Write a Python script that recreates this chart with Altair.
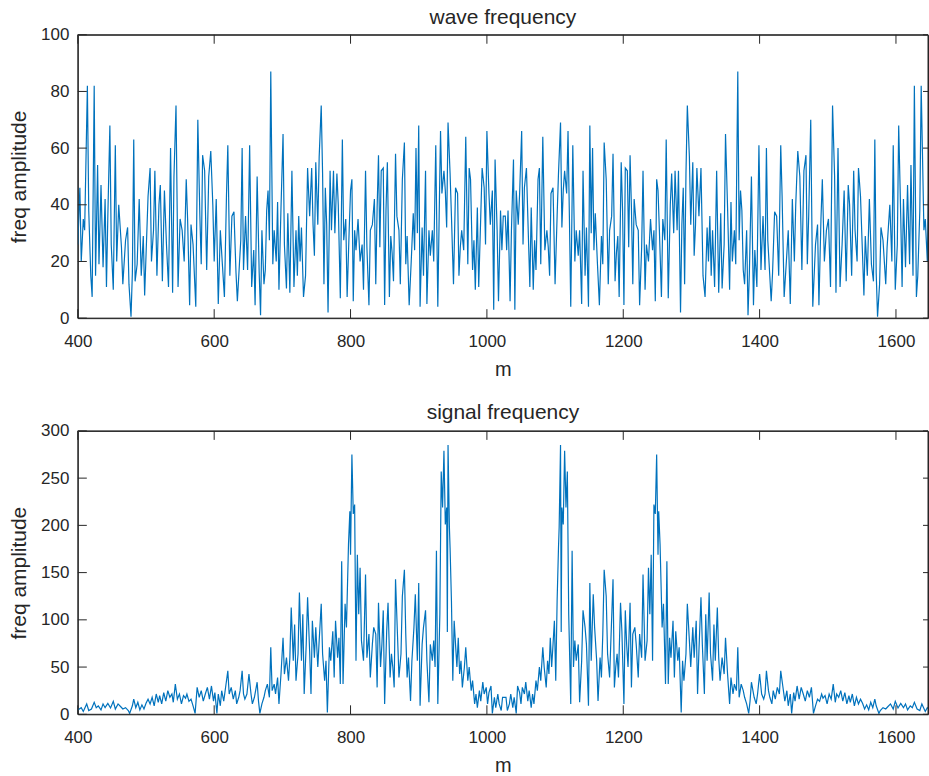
import altair as alt
import pandas as pd

# ---------------- data ----------------
# wave frequency (top panel), left half (m, amplitude)
WAVE_M_LEFT = [400, 403, 405, 408, 410, 414, 416, 419, 421, 424, 426, 429, 431, 434, 437, 440, 442, 444, 447, 449,
               452, 455, 457, 460, 464, 466, 470, 473, 475, 478, 480, 482, 484, 487, 490, 493, 496, 498, 500, 503,
               506, 508, 511, 513, 516, 519, 521, 524, 527, 530, 533, 536, 539, 541, 544, 547, 550, 553, 556, 559,
               561, 564, 566, 569, 573, 576, 579, 581, 583, 586, 589, 592, 595, 598, 600, 603, 606, 609,
               612, 615, 618, 620, 623, 626, 629, 632, 634, 637, 639, 641, 643, 646, 649, 652, 655, 658, 660, 663,
               666, 668, 670, 673, 675, 677, 679, 681, 683, 686, 688, 691, 693, 695, 698, 701, 703, 706, 708, 711,
               714, 717, 720, 722, 724, 726, 728, 731, 734, 737, 740, 743, 745, 747, 749, 752, 754, 757, 759, 761,
               763, 765, 767, 770, 772, 775, 777, 780, 782, 785, 788, 790, 793, 795, 798, 800, 802, 804, 806, 808,
               811, 814, 817, 819,
               822, 824, 827, 829, 832, 835, 837, 839, 841, 843, 845, 848, 850, 852, 854, 857, 859, 861, 863, 866,
               868, 871, 873, 876, 879, 881, 883, 886, 889, 892, 894, 896, 898, 900, 902, 905, 907, 910, 912, 915,
               917, 920, 922, 925, 928, 930, 932, 934, 937, 939, 941, 943, 946, 948, 951, 954, 957, 959, 961, 963,
               966, 969, 972, 974, 976, 979, 981, 983, 986, 988, 991, 993, 996, 998, 1000, 1003, 1005, 1008, 1010,
               1012, 1015, 1017, 1020, 1022, 1024]
WAVE_A_LEFT = [26, 46, 20, 35, 31, 82, 38, 15, 7.5, 82, 15, 54, 19, 47, 18, 42, 11, 36, 68, 26,
               10, 61, 20, 40, 25, 12, 27.5, 32, 12, 0.5, 16, 63, 13, 19, 42, 15, 29, 8, 22, 43,
               53, 20, 31, 52, 15, 40, 47, 13, 45, 26, 11, 60, 9, 50, 75, 11, 35, 31, 20, 49,
               35, 4.6, 33, 26, 4, 70, 36, 19, 57.5, 52, 17, 50, 59, 40, 20, 42, 5, 31,
               19, 7.5, 43, 61, 15, 36, 37.5, 16, 6, 19, 27.5, 60, 17, 36, 17, 61, 11, 24, 4.6, 50,
               16, 1, 31, 12, 17, 38, 45, 27.5, 87, 19, 31, 20, 41, 10, 39, 65, 26, 10.5, 37, 9,
               52, 11, 31, 15, 36, 20, 32, 7.5, 15, 53, 36, 53, 33, 22, 55, 33, 57, 75, 51, 12,
               46, 33, 2, 52, 31, 52, 30, 51, 40, 7, 63, 27.5, 35, 7.5, 31, 45, 49, 6, 31, 24,
               35, 20, 26, 10,
               52, 25, 4.6, 31, 33, 42, 12, 39, 57.5, 25, 52, 53, 4.6, 38, 55, 7.5, 29, 23, 13, 58,
               36, 31, 12, 49, 62, 19, 29, 4.6, 20, 37, 24, 60, 30, 68, 4, 32, 15, 52, 5, 31,
               22, 31, 20, 61, 4, 36, 66, 44, 52, 45, 32, 69, 51, 36, 12, 46, 44, 15, 25, 31,
               24, 64, 19, 53, 49, 17, 27.5, 10, 39, 11, 36, 53, 46, 26, 66, 44, 33, 45, 3,
               56, 31, 6, 38, 24, 36]
# wave frequency, right half (mirror image of the spectrum)
WAVE_M_RIGHT = [1027, 1029, 1031, 1034, 1036, 1039, 1041, 1043, 1046, 1048, 1051, 1053, 1055, 1058, 1060, 1063,
                1065, 1068, 1070, 1072, 1075, 1077, 1079, 1082, 1085, 1088, 1090, 1092, 1094, 1097, 1100, 1103,
                1105, 1108, 1110, 1112, 1114, 1117, 1119, 1121, 1123, 1126, 1129, 1131, 1134, 1136, 1139, 1141,
                1144, 1146, 1149, 1151, 1153, 1155, 1157, 1159, 1162, 1165, 1168, 1170, 1172, 1175, 1178, 1180,
                1183, 1185, 1188, 1190, 1192, 1194, 1197, 1199, 1201, 1203, 1206, 1208, 1210, 1212, 1214, 1216,
                1219, 1222, 1224, 1227, 1229,
                1232, 1234, 1237, 1240, 1243, 1245, 1247, 1249, 1251, 1253, 1256, 1258, 1261, 1263, 1266, 1269,
                1271, 1274, 1276, 1279, 1281, 1284, 1286, 1288, 1290, 1292, 1294, 1297, 1299, 1302, 1304, 1306,
                1308, 1311, 1314, 1317, 1320, 1323, 1325, 1327, 1329, 1331, 1334, 1337, 1340, 1343, 1345, 1348,
                1350, 1353, 1356, 1358, 1360, 1363, 1365, 1368, 1370, 1372, 1374, 1376, 1378, 1381, 1383, 1385,
                1388, 1391, 1393, 1396, 1399, 1402, 1405, 1408, 1410, 1412, 1414, 1417, 1419, 1422, 1425, 1428,
                1431, 1433, 1436, 1439,
                1442, 1445, 1448, 1451, 1453, 1456, 1459, 1462, 1465, 1468, 1470, 1472, 1475, 1478, 1482, 1485,
                1487, 1490, 1492, 1495, 1498, 1501, 1504, 1507, 1510, 1512, 1515, 1518, 1521, 1524, 1527, 1530,
                1532, 1535, 1538, 1540, 1543, 1545, 1548, 1551, 1553, 1555, 1558, 1561, 1564, 1567, 1569, 1571,
                1573, 1576, 1578, 1581, 1585, 1587, 1591, 1594, 1596, 1599, 1602, 1604, 1607, 1609, 1611, 1614,
                1617, 1620, 1622, 1625, 1627, 1630, 1632, 1635, 1637, 1641, 1643, 1646, 1648, 1651]
WAVE_A_RIGHT = [36, 24, 38, 6, 31, 56, 3, 45, 33, 44, 66, 26, 46, 53, 36, 11,
                39, 10, 27.5, 17, 49, 53, 19, 64, 24, 31, 25, 15, 44, 46, 12, 36,
                51, 69, 32, 45, 52, 44, 66, 36, 4, 61, 20, 31, 22, 31, 5, 52,
                15, 32, 4, 68, 30, 60, 24, 37, 20, 4.6, 29, 19, 62, 49, 12, 31,
                36, 58, 13, 23, 29, 7.5, 55, 38, 4.6, 53, 52, 25, 57.5, 39, 12, 42,
                33, 31, 4.6, 25, 52,
                10, 26, 20, 35, 24, 31, 6, 49, 45, 31, 7.5, 35, 27.5, 63, 7, 40,
                51, 30, 52, 31, 52, 2, 33, 46, 12, 51, 75, 57, 33, 55, 22, 33,
                53, 36, 53, 15, 7.5, 32, 20, 36, 15, 31, 11, 52, 9, 37, 10.5, 26,
                65, 39, 10, 41, 20, 31, 19, 87, 27.5, 45, 38, 17, 12, 31, 1, 16,
                50, 4.6, 24, 11, 61, 17, 36, 17, 60, 27.5, 19, 6, 16, 37.5, 36, 15,
                61, 43, 7.5, 19,
                31, 5, 42, 20, 40, 59, 50, 17, 52, 57.5, 19, 36, 70, 4, 26, 33,
                4.6, 35, 49, 20, 31, 35, 11, 75, 50, 9, 60, 11, 26, 45, 13, 47,
                40, 15, 52, 31, 20, 53, 43, 22, 8, 29, 15, 42, 19, 13, 63, 16,
                0.5, 12, 32, 27.5, 12, 25, 40, 20, 61, 10, 26, 68, 36, 11, 42, 18,
                47, 19, 54, 15, 82, 7.5, 15, 38, 82, 31, 35, 20, 46, 26]

# signal frequency (bottom panel), left half
SIG_M_LEFT = [400, 405, 408, 413, 416, 420, 424, 427, 430, 434, 437, 440, 444, 448, 452, 455, 459, 463, 466, 470,
              474, 476, 480, 482, 485, 488, 491, 494, 497, 500, 503, 506, 509, 512, 515, 518, 520, 523, 526, 529,
              532, 535, 538, 540, 543, 546, 549, 552, 555, 558, 560, 563, 566, 569, 572, 575, 578, 581, 584, 587,
              590, 593, 596, 599, 601, 604,
              606, 609, 611, 614, 617, 620, 622, 625, 628, 631, 633, 636, 638, 641, 643, 645, 648, 651, 654, 656,
              659, 663, 665, 667, 670, 673, 675, 678, 681, 683, 685, 688, 690, 693, 695, 698, 701, 703, 706, 709,
              711, 713, 716, 718, 720, 723, 725, 728, 730, 732, 735, 737, 740, 742, 744, 747, 749, 752, 754, 757,
              759, 762, 764, 766, 769, 771, 774, 776, 778, 781, 783, 785, 787, 789, 792, 794, 797, 799, 800, 802,
              804, 806, 808, 810, 812, 814, 816, 819,
              822, 824, 827, 829, 832, 834, 837, 839, 841, 844, 846, 848, 850, 853, 855, 858, 860, 862, 864, 866,
              869, 871, 874, 876, 879, 881, 883, 885, 888, 890, 893, 895, 898, 900, 902, 905, 907, 910, 912, 915,
              917, 920, 922, 924, 926, 928, 931, 933, 935, 937, 939, 941, 942, 943, 945, 946, 948, 950, 952, 954,
              956, 958, 960, 962, 964, 967, 969, 972, 974, 977, 979, 982, 984, 986, 989, 991, 994, 996, 999, 1001,
              1003, 1006, 1008, 1011, 1013, 1016, 1018, 1021, 1023]
SIG_A_LEFT = [4.6, 7, 3, 11, 4, 5.6, 12.7, 7, 9, 4.6, 11, 7, 11.6, 6.7, 13.7, 5.6, 11, 8, 5.6, 7,
              4, 1, 9, 16, 7, 12.7, 4.6, 10, 5.6, 11.6, 16, 11, 18, 9, 21.5, 12.7, 19.7, 11, 23, 14,
              25, 18, 21.5, 12.7, 32, 16, 21.5, 11, 19.7, 17, 21.5, 13.7, 16, 9, 1, 28.5, 18, 25, 14, 21.5,
              28.5, 16, 30, 14, 23, 1,
              21.5, 9, 25, 14, 30, 46, 21.5, 28.5, 16, 25, 11, 18, 25, 46, 21.5, 16, 21.5, 42.6, 21.5, 11,
              18, 34, 14, 1, 11, 18, 25, 32, 18, 71, 25, 32, 21.5, 39, 11, 42.6, 81, 42.6, 60, 35.6,
              60, 113, 56.7, 95, 35.6, 64, 129, 56.7, 106, 21.5, 74, 124, 67, 21.5, 99, 60, 92, 50, 78, 117,
              64, 35.6, 56.7, 2, 71, 56.7, 88, 39, 99, 60, 81, 32, 162, 32, 117, 92, 180, 215, 169, 275,
              212, 222, 56.7, 169, 106, 155, 78, 56.7,
              148, 60, 85, 39, 74, 92, 85, 28.5, 118, 50, 74, 110, 11, 88, 118, 39, 64, 50, 28.5, 143,
              81, 39, 64, 125, 153, 85, 39, 60, 14, 56.7, 92, 127, 56.7, 139, 9, 74, 92, 110, 56.7, 12.7,
              74, 56.7, 78, 50, 173, 11, 106, 257, 219, 279, 201, 219, 87, 285, 198, 176, 120, 35.6, 99, 74,
              50, 81, 42.6, 56.7, 28.5, 50, 71, 35.6, 50, 25, 35.6, 11, 21.5, 7, 25, 14, 34, 21.5, 28.5, 11,
              23, 30, 1, 18, 7, 21.5, 11, 4, 18]
# signal frequency, right half
SIG_M_RIGHT = [1028, 1030, 1033, 1035, 1038, 1040, 1043, 1045, 1048, 1050, 1052, 1055, 1057, 1060, 1062, 1065,
               1067, 1069, 1072, 1074, 1077, 1079, 1082, 1084, 1087, 1089, 1091, 1093, 1095, 1097, 1099, 1101,
               1103, 1105, 1106, 1108, 1109, 1110, 1112, 1114, 1116, 1118, 1120, 1123, 1125, 1127, 1129, 1131,
               1134, 1136, 1139, 1141, 1144, 1146, 1149, 1151, 1153, 1156, 1158, 1161, 1163, 1166, 1168, 1170,
               1172, 1175, 1177, 1180, 1182, 1185, 1187, 1189, 1191, 1193, 1196, 1198, 1201, 1203, 1205, 1207,
               1210, 1212, 1214, 1217, 1219, 1222, 1224, 1227, 1229,
               1232, 1235, 1237, 1239, 1241, 1243, 1245, 1247, 1249, 1251, 1252, 1254, 1257, 1259, 1262, 1264,
               1266, 1268, 1270, 1273, 1275, 1277, 1280, 1282, 1285, 1287, 1289, 1292, 1294, 1297, 1299, 1302,
               1304, 1307, 1309, 1311, 1314, 1316, 1319, 1321, 1323, 1326, 1328, 1331, 1333, 1335, 1338, 1340,
               1342, 1345, 1348, 1350, 1353, 1356, 1358, 1361, 1363, 1366, 1368, 1370, 1373, 1376, 1378, 1381,
               1384, 1386, 1388, 1392, 1395, 1397, 1400, 1403, 1406, 1408, 1410, 1413, 1415, 1418, 1420, 1423,
               1426, 1429, 1431, 1434, 1437, 1440, 1442, 1445,
               1447, 1450, 1452, 1455, 1458, 1461, 1464, 1467, 1470, 1473, 1476, 1479, 1482, 1485, 1488, 1491,
               1493, 1496, 1499, 1502, 1505, 1508, 1511, 1513, 1516, 1519, 1522, 1525, 1528, 1531, 1533, 1536,
               1539, 1542, 1545, 1548, 1551, 1554, 1557, 1560, 1563, 1566, 1569, 1571, 1575, 1577, 1581, 1585,
               1588, 1592, 1596, 1599, 1603, 1607, 1611, 1614, 1617, 1621, 1624, 1627, 1631, 1635, 1638, 1643,
               1646, 1651]
SIG_A_RIGHT = [18, 4, 11, 21.5, 7, 18, 1, 30, 23, 11, 28.5, 21.5, 34, 14, 25, 7,
               21.5, 11, 35.6, 25, 50, 35.6, 71, 50, 28.5, 56.7, 42.6, 81, 50, 74, 99, 35.6,
               120, 176, 198, 285, 87, 219, 201, 279, 219, 257, 106, 11, 173, 50, 78, 56.7,
               74, 12.7, 56.7, 110, 92, 74, 9, 139, 56.7, 127, 92, 56.7, 14, 60, 39, 85,
               153, 125, 64, 39, 81, 143, 28.5, 50, 64, 39, 118, 88, 11, 110, 74, 50,
               118, 28.5, 85, 92, 74, 39, 85, 60, 148,
               56.7, 78, 155, 106, 169, 56.7, 222, 212, 275, 169, 215, 180, 92, 117, 32, 162,
               32, 81, 60, 99, 39, 88, 56.7, 71, 2, 56.7, 35.6, 64, 117, 78, 50, 92,
               60, 99, 21.5, 67, 124, 74, 21.5, 106, 56.7, 129, 64, 35.6, 95, 56.7, 113, 60,
               35.6, 60, 42.6, 81, 42.6, 11, 39, 21.5, 32, 25, 71, 18, 32, 25, 18, 11,
               1, 14, 34, 18, 11, 21.5, 42.6, 21.5, 16, 21.5, 46, 25, 18, 11, 25, 16,
               28.5, 21.5, 46, 30, 14, 25, 9, 21.5,
               1, 23, 14, 30, 16, 28.5, 21.5, 14, 25, 18, 28.5, 1, 9, 16, 13.7, 21.5,
               17, 19.7, 11, 21.5, 16, 32, 12.7, 21.5, 18, 25, 14, 23, 11, 19.7, 12.7, 21.5,
               9, 18, 11, 16, 11.6, 5.6, 10, 4.6, 12.7, 7, 16, 9, 1, 4, 7, 5.6,
               8, 11, 5.6, 13.7, 6.7, 11.6, 7, 11, 4.6, 9, 7, 12.7, 5.6, 4, 11, 3,
               7, 4.6]

X_DOMAIN = [400, 1647]
X_TICKS = [400, 600, 800, 1000, 1200, 1400, 1600]
WAVE_Y_DOMAIN = [0, 100]
WAVE_Y_TICKS = [0, 20, 40, 60, 80, 100]
SIG_Y_DOMAIN = [0, 300]
SIG_Y_TICKS = [0, 50, 100, 150, 200, 250, 300]

TITLES = ["wave frequency", "signal frequency"]
X_TITLE = "m"
Y_TITLE = "freq amplitude"

# ---------------- styling ----------------
FONT = "Liberation Sans"
INK = "#262626"
LINE = "#0072BD"
W, H = 852, 284
TICK = 9


def panel(m_vals, a_vals, y_domain, y_ticks, title, title_offset):
    df = pd.DataFrame({"m": m_vals, "a": a_vals})
    xt = pd.DataFrame({"tx": X_TICKS})
    yt = pd.DataFrame({"ty": y_ticks})
    xb = pd.DataFrame({"bx": X_DOMAIN})
    yb = pd.DataFrame({"by": y_domain})
    xs = alt.Scale(domain=X_DOMAIN, nice=False, zero=False)
    ys = alt.Scale(domain=y_domain, nice=False, zero=False)
    xaxis = alt.Axis(
        values=X_TICKS, title=X_TITLE, format="d", ticks=False, tickSize=0, domain=False, grid=False,
        labelFlush=False, labelFont=FONT, labelFontSize=17, labelColor=INK, labelPadding=15,
        titleFont=FONT, titleFontSize=20, titleFontWeight="normal", titleColor=INK,
        titleY=57, titleBaseline="alphabetic")
    yaxis = alt.Axis(
        values=y_ticks, title=Y_TITLE, format="d", ticks=False, tickSize=0, domain=False, grid=False,
        labelFlush=False, labelFont=FONT, labelFontSize=17, labelColor=INK, labelPadding=9,
        titleFont=FONT, titleFontSize=21, titleFontWeight="normal", titleColor=INK,
        titleX=-52, titleY=H / 2, titleAngle=270, titleAlign="center",
        titleBaseline="alphabetic")

    line = alt.Chart(df).mark_line(color=LINE, strokeWidth=1.2, clip=True).encode(
        x=alt.X("m:Q", scale=xs, axis=xaxis),
        y=alt.Y("a:Q", scale=ys, axis=yaxis),
    )
    rule = dict(color=INK, strokeWidth=1)
    bottom_ticks = alt.Chart(xt).mark_rule(**rule).encode(
        x=alt.X("tx:Q", scale=xs, axis=xaxis), y=alt.value(H), y2=alt.value(H - TICK))
    top_ticks = alt.Chart(xt).mark_rule(**rule).encode(
        x=alt.X("tx:Q", scale=xs, axis=xaxis), y=alt.value(0), y2=alt.value(TICK))
    left_ticks = alt.Chart(yt).mark_rule(**rule).encode(
        y=alt.Y("ty:Q", scale=ys, axis=yaxis), x=alt.value(0), x2=alt.value(TICK))
    right_ticks = alt.Chart(yt).mark_rule(**rule).encode(
        y=alt.Y("ty:Q", scale=ys, axis=yaxis), x=alt.value(W - 5), x2=alt.value(W))
    # frame (box) lines at the ends of both scales
    hframe = alt.Chart(yb).mark_rule(**rule).encode(
        y=alt.Y("by:Q", scale=ys, axis=yaxis), x=alt.value(0), x2=alt.value(W))
    vframe = alt.Chart(xb).mark_rule(**rule).encode(
        x=alt.X("bx:Q", scale=xs, axis=xaxis), y=alt.value(0), y2=alt.value(H))

    return alt.layer(line, bottom_ticks, top_ticks, left_ticks, right_ticks, hframe, vframe).properties(
        width=W, height=H,
        title=alt.TitleParams(text=title, font=FONT, fontSize=21, fontWeight="normal", color=INK,
                              anchor="middle", frame="group", offset=title_offset,
                              baseline="alphabetic"),
    )


top = panel(WAVE_M_LEFT + WAVE_M_RIGHT, WAVE_A_LEFT + WAVE_A_RIGHT, WAVE_Y_DOMAIN, WAVE_Y_TICKS, TITLES[0], -19)
bottom = panel(SIG_M_LEFT + SIG_M_RIGHT, SIG_A_LEFT + SIG_A_RIGHT, SIG_Y_DOMAIN, SIG_Y_TICKS, TITLES[1], -18)

chart = alt.vconcat(top, bottom, spacing=113, bounds="flush").properties(
    padding={"left": 8, "top": 5, "right": 0, "bottom": 0},
    background="white",
).configure_view(stroke=INK, strokeWidth=1)

chart.save("out.html", embed_options={"renderer": "svg", "actions": False})
